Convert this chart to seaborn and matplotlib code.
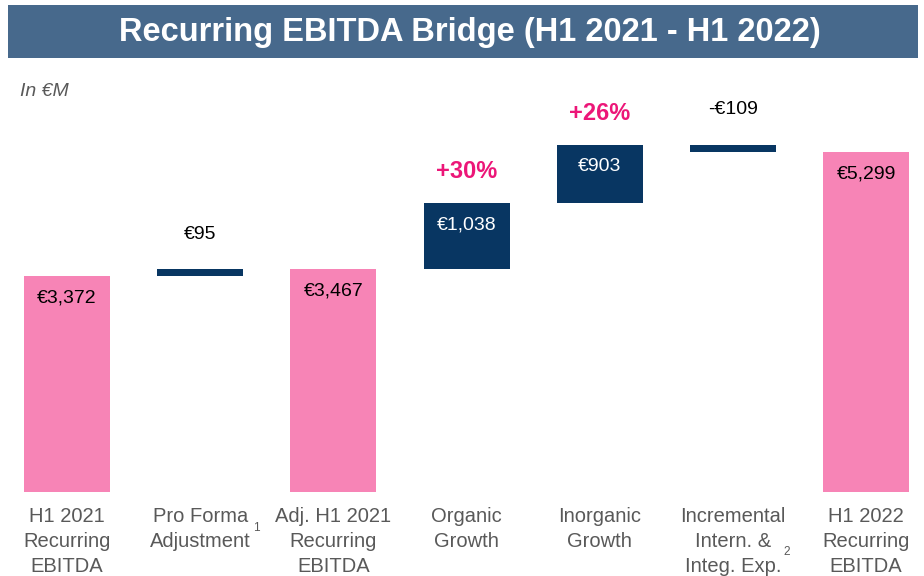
import matplotlib
matplotlib.use("Agg")
import matplotlib.pyplot as plt
from matplotlib.patches import Rectangle
import seaborn as sns
import pandas as pd

# Bridge steps, values in €M
categories = [
    "H1 2021\nRecurring\nEBITDA",
    "Pro Forma\nAdjustment",
    "Adj. H1 2021\nRecurring\nEBITDA",
    "Organic\nGrowth",
    "Inorganic\nGrowth",
    "Incremental\nIntern. &\nInteg. Exp.",
    "H1 2022\nRecurring\nEBITDA",
]
values = [3372, 95, 3467, 1038, 903, -109, 5299]
kinds = ["total", "delta", "total", "delta", "delta", "delta", "total"]
value_labels = ["€3,372", "€95", "€3,467", "€1,038", "€903", "-€109", "€5,299"]
growth_labels = ["", "", "", "+30%", "+26%", "", ""]

PINK = "#F784B6"
NAVY = "#083662"
BANNER = "#47698C"
MAGENTA = "#EC1678"
GREY = "#595959"

# Waterfall geometry: floating segments for deltas, full bars for totals
bases, heights = [], []
running = 0
for v, k in zip(values, kinds):
    if k == "total":
        bases.append(0)
        heights.append(v)
        running = v
    else:
        lo = running if v >= 0 else running + v
        bases.append(lo)
        heights.append(abs(v))
        running += v

df = pd.DataFrame({"step": categories, "height": heights, "base": bases})

sns.set_theme(style="white")
plt.rcParams["font.family"] = ["Liberation Sans", "DejaVu Sans"]

fig = plt.figure(figsize=(9.24, 5.76), dpi=100)
ax = fig.add_axes([0.0, 84 / 576, 1.0, 391.6 / 576])

sns.barplot(data=df, x="step", y="height", order=categories, bottom=df["base"].values,
            color=NAVY, width=0.646, errorbar=None, ax=ax, saturation=1,
            edgecolor="none", linewidth=0)

for patch, k in zip(ax.patches, kinds):
    patch.set_facecolor(PINK if k == "total" else NAVY)

ax.set_ylim(0, 6100)
ax.set_xlim(-0.503, 6.435)
for s in ax.spines.values():
    s.set_visible(False)
ax.set_yticks([])
ax.set_xlabel("")
ax.set_ylabel("")
ax.set_xticks(range(len(categories)))
ax.set_xticklabels(categories, fontsize=14.5, color=GREY, linespacing=1.4, va="top")
ax.tick_params(axis="x", length=0, pad=11)

px = 72 / 100  # points per pixel at this dpi
for i, (b, h, k, lab, g) in enumerate(zip(bases, heights, kinds, value_labels, growth_labels)):
    top = b + h
    if k == "total" or h > 300:
        color = "black" if k == "total" else "white"
        ax.annotate(lab, (i, top), xytext=(0, -22 * px), textcoords="offset points",
                    ha="center", va="center", fontsize=14, color=color)
    else:
        ax.annotate(lab, (i, top), xytext=(0, 35 * px), textcoords="offset points",
                    ha="center", va="center", fontsize=14, color="black")
    if g:
        ax.annotate(g, (i, top), xytext=(0, 31 * px), textcoords="offset points",
                    ha="center", va="center", fontsize=17, fontweight="bold", color=MAGENTA)

# footnote markers beside the axis labels
fig.text(256 / 924, 1 - 528 / 576, "1", fontsize=8.5, color=GREY, ha="center", va="center")
fig.text(787 / 924, 1 - 552 / 576, "2", fontsize=8.5, color=GREY, ha="center", va="center")

# title banner
fig.patches.append(Rectangle((8 / 924, 1 - 58 / 576), 910 / 924, 53 / 576,
                             transform=fig.transFigure, facecolor=BANNER, edgecolor="none"))
fig.text(470 / 924, 1 - 33 / 576, "Recurring EBITDA Bridge (H1 2021 - H1 2022)",
         ha="center", va="center", fontsize=23.5, fontweight="bold", color="white")

fig.text(20 / 924, 1 - 92 / 576, "In €M", ha="left", va="center", fontsize=14,
         style="italic", color=GREY)

fig.savefig("out.png", dpi=100, facecolor="white")
